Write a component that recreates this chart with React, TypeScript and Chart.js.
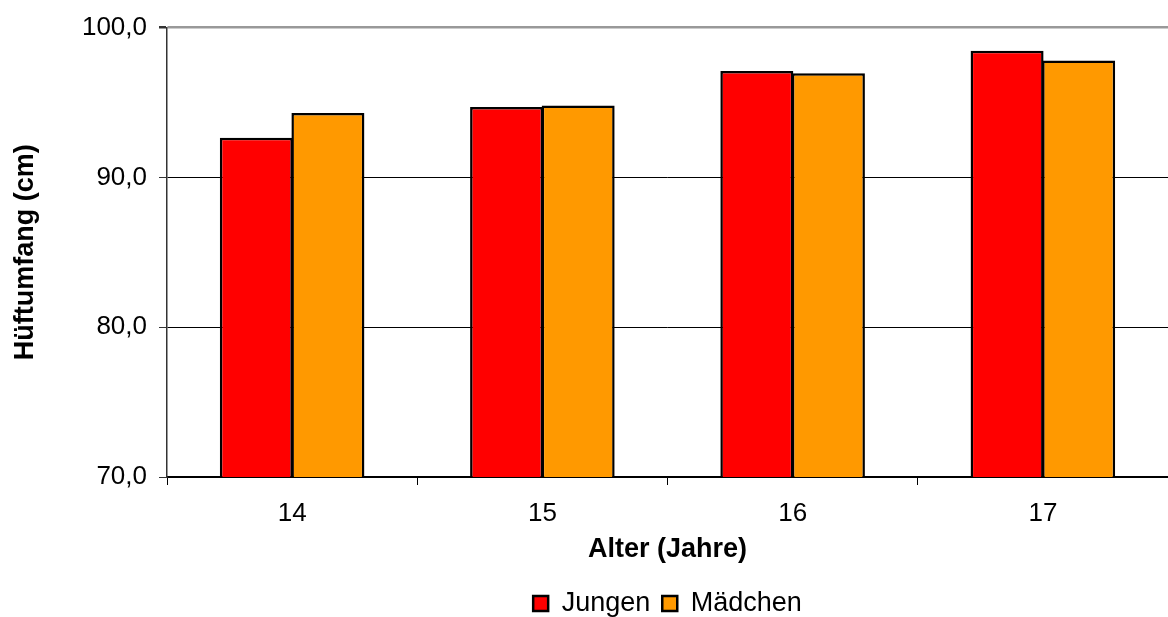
import React, { useEffect, useRef } from "react";
import { Chart, registerables } from "chart.js";

Chart.register(...registerables);

const categories = ["14", "15", "16", "17"];
const jungen = [92.65, 94.7, 97.1, 98.45];
const maedchen = [94.3, 94.8, 96.95, 97.8];
const seriesNames = ["Jungen", "Mädchen"];
const yTitle = "Hüftumfang (cm)";
const xTitle = "Alter (Jahre)";

const FONT = "'Liberation Sans', Arial, sans-serif";

export default function App() {
  const ref = useRef<HTMLCanvasElement | null>(null);
  useEffect(() => {
    document.body.style.margin = "0";
    const ctx = ref.current!.getContext("2d")!;
    const chart = new Chart(ctx, {
      type: "bar",
      data: {
        labels: categories,
        datasets: [
          {
            label: seriesNames[0],
            data: jungen,
            backgroundColor: "#ff0000",
            borderColor: "#000000",
            borderWidth: 2.5,
            borderSkipped: false,
          },
          {
            label: seriesNames[1],
            data: maedchen,
            backgroundColor: "#ff9900",
            borderColor: "#000000",
            borderWidth: 2.5,
            borderSkipped: false,
          },
        ],
      },
      options: {
        animation: false,
        responsive: false,
        maintainAspectRatio: false,
        datasets: { bar: { categoryPercentage: 0.572, barPercentage: 1.02 } },
        layout: { padding: { top: 22, right: 0, left: 0, bottom: -10 } },
        plugins: {
          tooltip: { enabled: false },
          legend: {
            position: "bottom",
            fullSize: false,
            labels: {
              font: { family: FONT, size: 27 },
              color: "#000",
              boxWidth: 15,
              boxHeight: 15,
              padding: 12,
            },
          },
        },
        scales: {
          x: {
            afterFit: (s: any) => {
              s.height = 101;
            },
            grid: {
              offset: true,
              drawOnChartArea: false,
              drawTicks: true,
              tickLength: 8,
              color: "#000",
            },
            border: { color: "#000", width: 1.5 },
            ticks: {
              font: { family: FONT, size: 26 },
              color: "#000",
              padding: 13,
            },
            title: {
              display: true,
              text: xTitle,
              font: { family: FONT, size: 27, weight: "bold" },
              color: "#000",
              padding: { top: 0, bottom: 12 },
            },
          },
          y: {
            min: 70,
            max: 100,
            afterFit: (s: any) => {
              s.width = 167;
            },
            ticks: {
              stepSize: 10,
              font: { family: FONT, size: 26 },
              color: "#000",
              padding: 12,
              callback: (v: any) => Number(v).toFixed(1).replace(".", ","),
            },
            grid: {
              color: (c: any) => (c.tick && c.tick.value === 100 ? "#999999" : "#000000"),
              lineWidth: (c: any) => (c.tick && c.tick.value === 100 ? 2.5 : 1),
              tickLength: 8,
              tickColor: "#333",
            },
            border: { color: "#333", width: 1.5 },
            title: {
              display: true,
              text: yTitle,
              font: { family: FONT, size: 27, weight: "bold" },
              color: "#000",
              padding: { top: 9, bottom: 0 },
            },
          },
        },
      },
    });
    return () => chart.destroy();
  }, []);
  return (
    <div style={{ position: "absolute", left: 0, top: 0, width: 1168, height: 617 }}>
      <canvas ref={ref} width={1168} height={617} style={{ width: 1168, height: 617 }} />
    </div>
  );
}
